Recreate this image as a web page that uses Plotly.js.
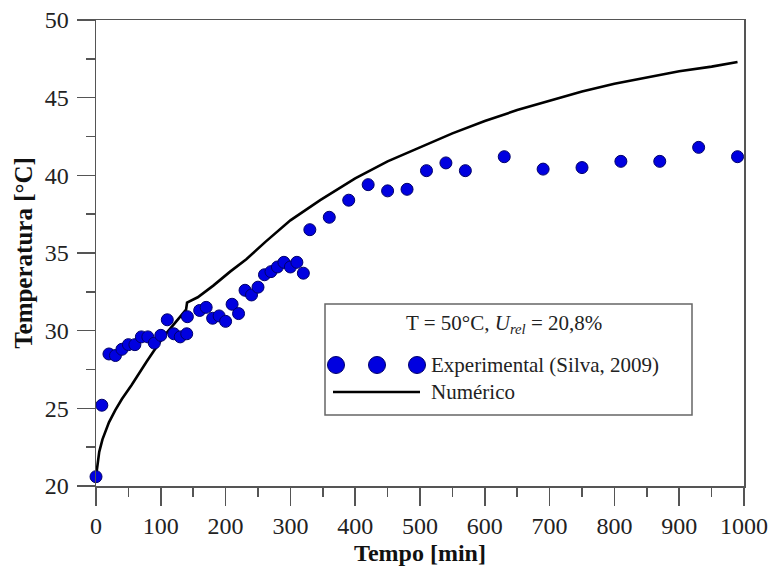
<!DOCTYPE html>
<html>
<head>
<meta charset="utf-8">
<script src="https://cdn.plot.ly/plotly-3.0.1.min.js"></script>
<style>html,body{margin:0;padding:0;background:#fff;}#chart{width:771px;height:573px;}</style>
</head>
<body>
<div id="chart"></div>
<script>
// Experimental data (Silva, 2009)
const expTime = [0, 9, 20, 30, 40, 50, 60, 70, 80, 90, 100, 110, 120, 130, 140, 141, 160, 170, 180, 190, 200, 210, 220, 230, 240, 250, 260, 270, 280, 290, 300, 310, 320, 330, 360, 390, 420, 450, 480, 510, 540, 570, 630, 690, 750, 810, 870, 930, 990];
const expTemp = [20.6, 25.2, 28.5, 28.4, 28.8, 29.1, 29.1, 29.6, 29.6, 29.2, 29.7, 30.7, 29.8, 29.6, 29.8, 30.9, 31.3, 31.5, 30.8, 30.95, 30.6, 31.7, 31.1, 32.6, 32.3, 32.8, 33.6, 33.8, 34.1, 34.4, 34.1, 34.4, 33.7, 36.5, 37.3, 38.4, 39.4, 39.0, 39.1, 40.3, 40.8, 40.3, 41.2, 40.4, 40.5, 40.9, 40.9, 41.8, 41.2];

// Numerical solution
const numTime = [0, 2, 5, 10, 15, 20, 30, 40, 55, 78, 104, 130, 139, 140.5, 157, 181, 207, 232, 261, 300, 346, 400, 450, 500, 550, 600, 650, 700, 750, 800, 850, 900, 950, 990];
const numTemp = [20.6, 21.3, 22.2, 23.0, 23.6, 24.1, 24.9, 25.6, 26.5, 28.0, 29.6, 30.9, 31.35, 31.8, 32.15, 32.9, 33.8, 34.6, 35.7, 37.1, 38.4, 39.8, 40.9, 41.8, 42.7, 43.5, 44.2, 44.8, 45.4, 45.9, 46.3, 46.7, 47.0, 47.3];

// Axis ticks
const xTicks = [0, 100, 200, 300, 400, 500, 600, 700, 800, 900, 1000];
const yTicks = [20, 25, 30, 35, 40, 45, 50];

// Legend texts
const legendTitle = 'T = 50°C, <i>U<sub>rel</sub></i> = 20,8%';
const expName = 'Experimental (Silva, 2009)';
const numName = 'Numérico';

const FONT = 'Liberation Serif, Times New Roman, serif';
const AX = '#555555';

const traces = [
  {
    x: numTime, y: numTemp, type: 'scatter', mode: 'lines', name: numName,
    line: {color: '#000000', width: 2.6}, showlegend: false, cliponaxis: false
  },
  {
    x: expTime, y: expTemp, type: 'scatter', mode: 'markers', name: expName,
    marker: {color: '#0000E0', size: 12, line: {color: '#00006A', width: 1}},
    showlegend: false, cliponaxis: false
  }
];

const axisCommon = {
  showline: true, linecolor: AX, linewidth: 1.5, mirror: true,
  ticks: 'outside', ticklen: 18, tickwidth: 1.5, tickcolor: AX,
  showgrid: false, zeroline: false,
  tickfont: {family: FONT, size: 24, color: '#222222'}
};

// legend geometry in paper units (plot area 648 x 466 px)
const px = v => (v - 96) / 648;
const py = v => (486 - v) / 466;

const shapes = [
  {type: 'rect', xref: 'paper', yref: 'paper', x0: px(325), x1: px(692), y0: py(415), y1: py(304),
   line: {color: '#666666', width: 1.5}, fillcolor: '#ffffff', layer: 'above'},
  {type: 'line', xref: 'paper', yref: 'paper', x0: px(333), x1: px(420), y0: py(392), y1: py(392),
   line: {color: '#000000', width: 2.6}, layer: 'above'}
];
[336, 377, 417].forEach(cx => {
  shapes.push({type: 'circle', xref: 'paper', yref: 'paper', xsizemode: 'pixel', ysizemode: 'pixel',
    xanchor: px(cx), yanchor: py(365), x0: -8.5, x1: 8.5, y0: -8.5, y1: 8.5,
    fillcolor: '#0000E0', line: {color: '#00006A', width: 1}, layer: 'above'});
});

const annotations = [
  {xref: 'paper', yref: 'paper', x: px(504), y: py(324), text: legendTitle, showarrow: false,
   xanchor: 'center', yanchor: 'middle', font: {family: FONT, size: 21, color: '#222222'}},
  {xref: 'paper', yref: 'paper', x: px(429), y: py(365), text: expName, showarrow: false,
   xanchor: 'left', yanchor: 'middle', font: {family: FONT, size: 21, color: '#222222'}},
  {xref: 'paper', yref: 'paper', x: px(429), y: py(392), text: numName, showarrow: false,
   xanchor: 'left', yanchor: 'middle', font: {family: FONT, size: 21, color: '#222222'}}
];

const layout = {
  width: 771, height: 573,
  margin: {l: 96, r: 27, t: 20, b: 87},
  paper_bgcolor: '#ffffff', plot_bgcolor: '#ffffff',
  showlegend: false,
  xaxis: Object.assign({}, axisCommon, {
    range: [0, 1000], tickvals: xTicks, ticktext: xTicks.map(String),
    minor: {dtick: 50, ticks: 'outside', ticklen: 9, tickwidth: 1.5, tickcolor: AX},
    title: {text: '<b>Tempo [min]</b>', font: {family: FONT, size: 24, color: '#111111'}, standoff: 6}
  }),
  yaxis: Object.assign({}, axisCommon, {
    range: [20, 50], tickvals: yTicks, ticktext: yTicks.map(String),
    ticklabelstandoff: 3,
    minor: {dtick: 2.5, ticks: 'outside', ticklen: 9, tickwidth: 1.5, tickcolor: AX},
    title: {text: '<b>Temperatura [°C]</b>', font: {family: FONT, size: 25, color: '#111111'}, standoff: 5}
  }),
  shapes: shapes,
  annotations: annotations
};

Plotly.newPlot('chart', traces, layout, {displayModeBar: false, staticPlot: true});
</script>
</body>
</html>
